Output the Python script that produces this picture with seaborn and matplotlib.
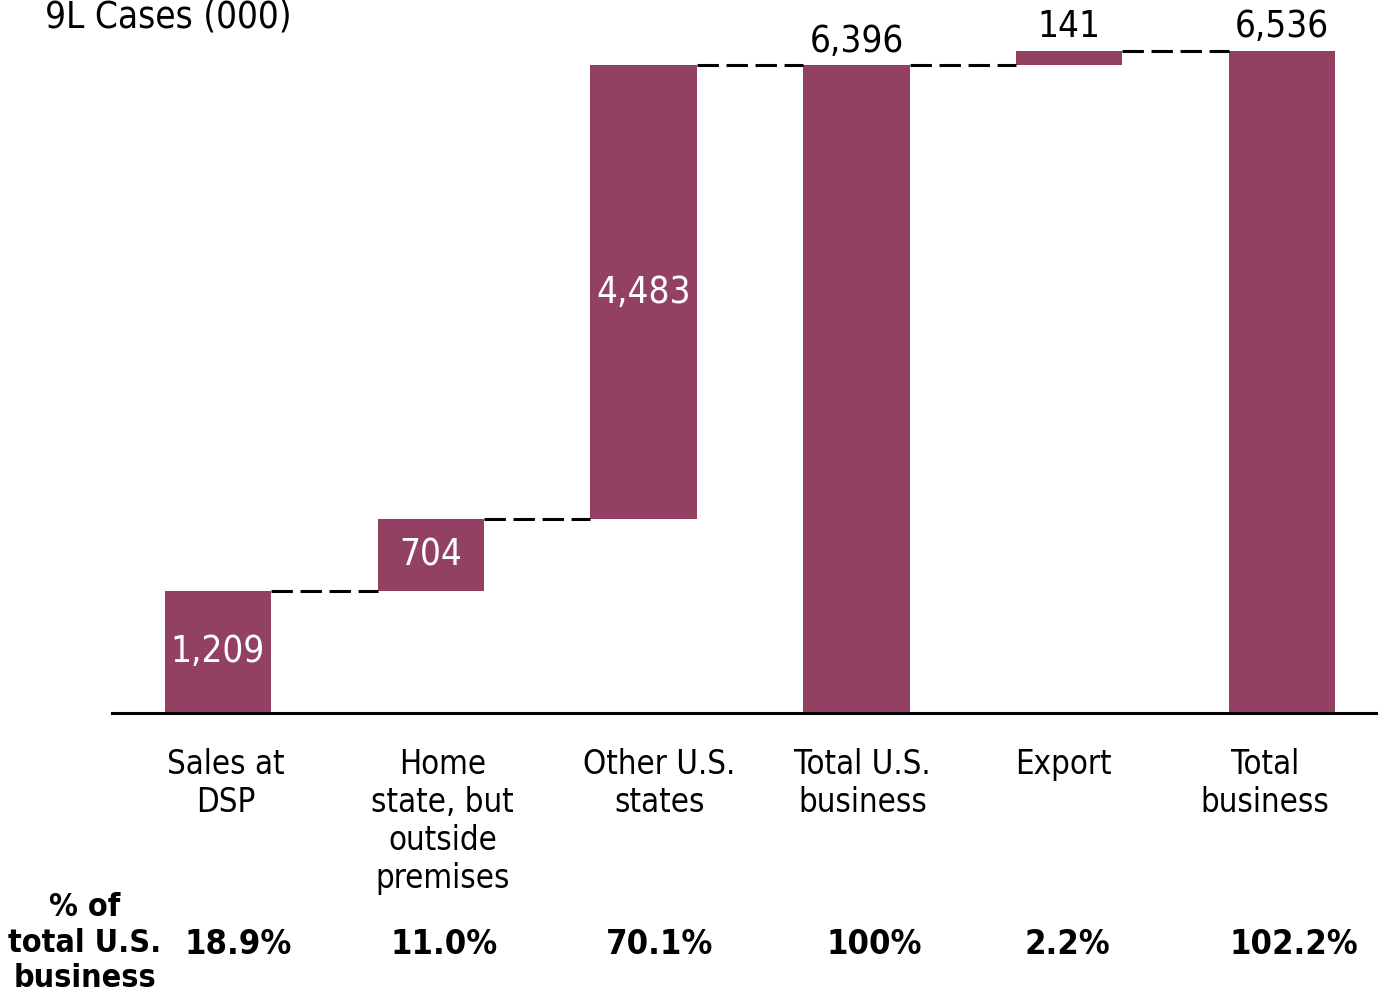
import numpy as np
import pandas as pd
import matplotlib
matplotlib.use("Agg")
import matplotlib.pyplot as plt
from matplotlib import font_manager as fm
from matplotlib.transforms import ScaledTranslation, blended_transform_factory
import seaborn as sns

# ---- data ----
categories = ["Sales at\nDSP", "Home\nstate, but\noutside\npremises", "Other U.S.\nstates",
              "Total U.S.\nbusiness", "Export", "Total\nbusiness"]
values = [1209, 704, 4483, 6396, 141, 6536]
is_total = [False, False, False, True, False, True]
value_labels = ["1,209", "704", "4,483", "6,396", "141", "6,536"]
label_inside = [True, True, True, False, False, False]
pct_labels = ["18.9%", "11.0%", "70.1%", "100%", "2.2%", "102.2%"]
title_text = "9L Cases (000)"
pct_row_title = "% of\ntotal U.S.\nbusiness"

# ---- layout (pixel nudges of text, not data) ----
tick_dx_px = [8, 12, 16, 6, -6, -17]
pct_dx_px = [20, 13, 16, 18, -2, 12]

BAR_COLOR = "#934163"

sns.set_theme(style="white")
has_cond = any(f.name == "DejaVu Sans" and str(f.stretch) == "condensed"
               for f in fm.fontManager.ttflist)
plt.rcParams["font.family"] = ["DejaVu Sans"]
k = 1.0
if has_cond:
    plt.rcParams["font.stretch"] = "condensed"
    k = 1.1

# waterfall bottoms
bottoms, tops = [], []
running = 0
for v, t in zip(values, is_total):
    if t:
        b = 0
        running = v
    else:
        b = running
        running += v
    bottoms.append(b)
    tops.append(b + v)

df = pd.DataFrame({"cat": categories, "value": values})

DPI = 100
fig = plt.figure(figsize=(13.78, 9.96), dpi=DPI)
ax = fig.add_axes([112 / 1378, 283 / 996, 1266 / 1378, 713 / 996])

sns.barplot(data=df, x="cat", y="value", order=categories, bottom=np.array(bottoms),
            color=BAR_COLOR, saturation=1, width=0.5, errorbar=None,
            linewidth=0, ax=ax)

ax.set_xlim(-0.498, 5.451)
ax.set_ylim(0, 7040)
ax.set_xlabel("")
ax.set_ylabel("")
ax.set_yticks([])
for s in ["top", "right", "left"]:
    ax.spines[s].set_visible(False)
ax.spines["bottom"].set_color("black")
ax.spines["bottom"].set_linewidth(2.2)
ax.spines["bottom"].set_zorder(5)
ax.tick_params(axis="x", length=0, pad=25, labelsize=21.5 * k, colors="black")
for lab, dx in zip(ax.get_xticklabels(), tick_dx_px):
    lab.set_linespacing(1.2)
    lab.set_transform(lab.get_transform() + ScaledTranslation(dx / DPI, 0, fig.dpi_scale_trans))

# connectors
for i in range(len(values) - 1):
    ax.plot([i + 0.25, i + 0.75], [tops[i], tops[i]], color="black", lw=2.2,
            dashes=(7, 2.5), zorder=1)

# value labels
for i, (lab, inside) in enumerate(zip(value_labels, label_inside)):
    if inside:
        ax.text(i, bottoms[i] + values[i] / 2, lab, ha="center", va="center",
                color="white", fontsize=24 * k)
    else:
        ax.annotate(lab, (i, tops[i]), xytext=(0, 4), textcoords="offset points",
                    ha="center", va="bottom", color="black", fontsize=24 * k)

# title
fig.text(45 / 1378, 1 - 17 / 996, title_text, ha="left", va="center",
         fontsize=24 * k, color="black")

# percent row
trans = blended_transform_factory(ax.transData, fig.transFigure)
for i, (p, dx) in enumerate(zip(pct_labels, pct_dx_px)):
    t = trans + ScaledTranslation(dx / DPI, 0, fig.dpi_scale_trans)
    ax.text(i, 1 - 944 / 996, p, transform=t, ha="center", va="center",
            fontsize=22.5 * k, fontweight="bold", color="black")
fig.text(85 / 1378, 1 - 943 / 996, pct_row_title, ha="center", va="center",
         fontsize=21 * k, fontweight="bold", color="black", linespacing=1.18,
         multialignment="center")

fig.savefig("out.png", dpi=DPI)
